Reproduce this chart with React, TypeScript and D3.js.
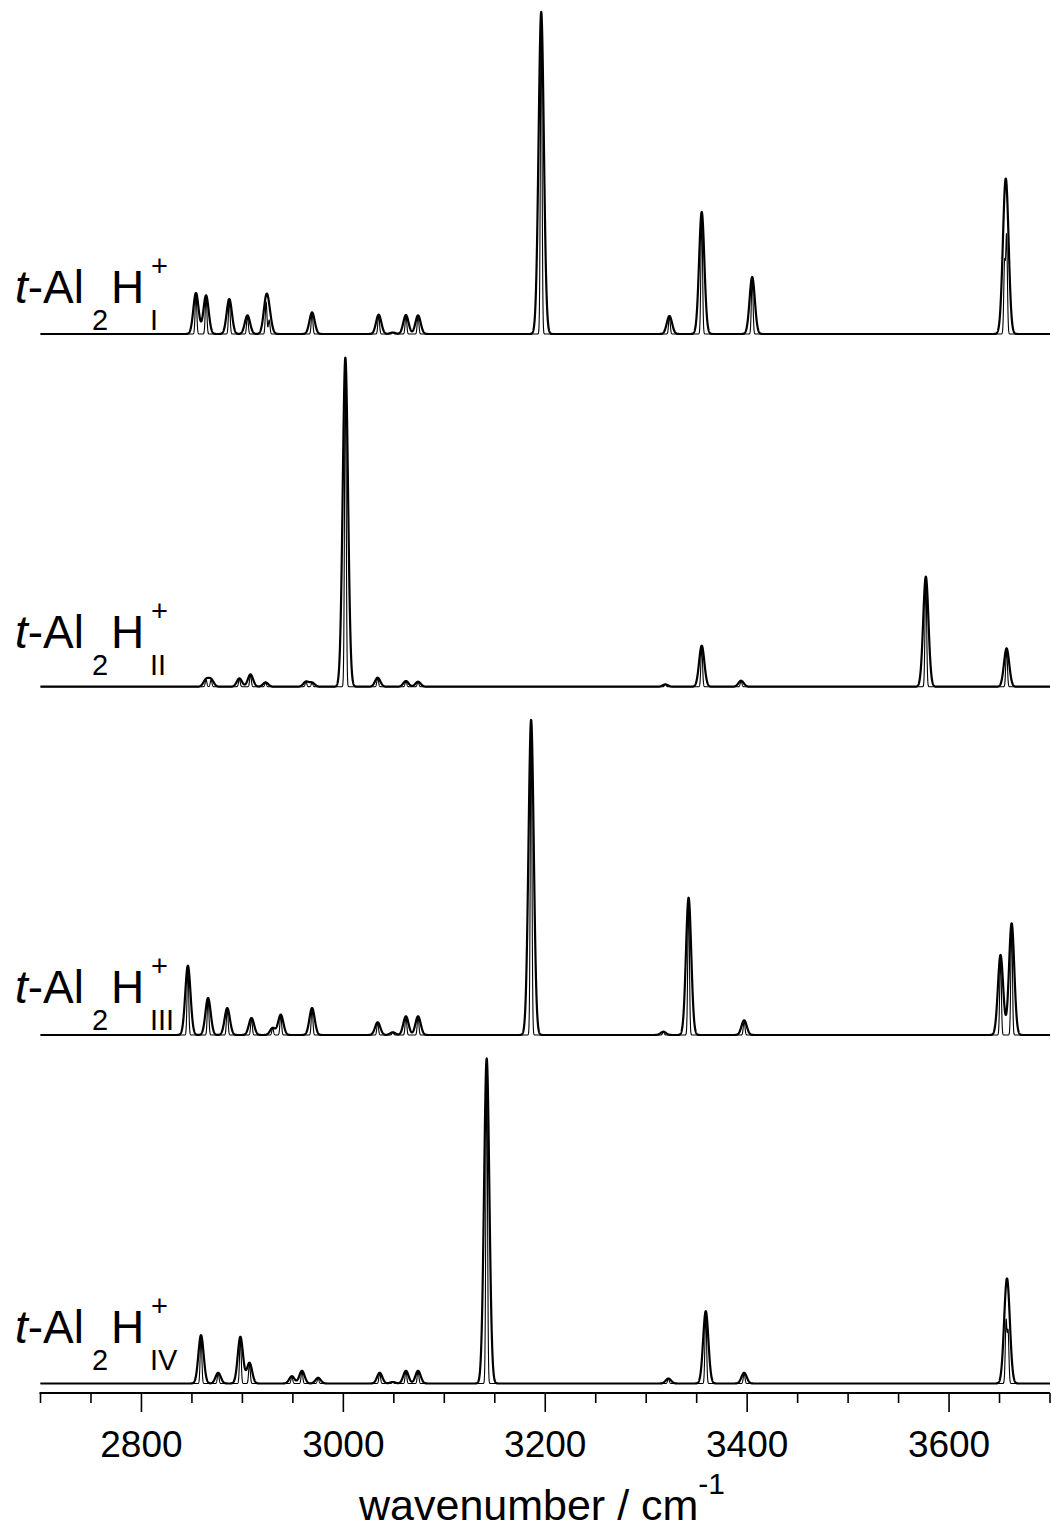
import React, { useEffect, useRef } from 'react';
import * as d3 from 'd3';

// stick positions (cm-1) and intensities for each isomer
const freqI = [2854, 2864, 2887, 2905, 2923.5, 2926.5, 2969, 3035, 3049, 3062, 3074, 3196, 3323, 3355, 3405, 3655, 3657];
const intI = [41, 38.6, 35, 18.6, 32, 14, 21.6, 19.3, 1.5, 19, 18.6, 322, 18, 122, 57, 70, 97];

const freqII = [2864, 2869, 2897, 2908, 2923, 2963, 2969, 3002, 3034, 3062, 3074, 3319, 3355, 3394, 3577, 3657];
const intII = [7, 7, 8.3, 12.3, 4.3, 5, 4, 329, 9, 5.7, 5, 2.3, 41, 6, 110, 38.3];

const freqIII = [2846, 2866, 2885, 2909, 2930, 2938, 2969, 3034, 3049, 3062, 3074, 3186, 3317, 3342, 3397, 3651, 3662];
const intIII = [69.3, 37, 27, 17, 7, 20.3, 27, 12.7, 2.7, 18.7, 18.7, 315, 3.3, 137.3, 14.7, 80, 111.7];

const freqIV = [2859, 2876, 2898, 2907, 2949, 2959, 2975, 3036, 3049, 3062, 3074, 3142, 3322, 3359, 3397, 3656.5, 3658.5];
const intIV = [48.3, 10.7, 46.7, 20.7, 7.3, 12.7, 5.7, 10.7, 1.5, 12.7, 12.7, 325, 5, 72.3, 10.7, 62, 51];

const isomers = ['I', 'II', 'III', 'IV'];
const tickMajor = [2800, 3000, 3200, 3400, 3600];

const W = 1051;
const H = 1536;
const FONT = "'Liberation Sans', Arial, sans-serif";

const App = () => {
  const ref = useRef(null);

  useEffect(() => {
    document.body.style.margin = '0';
    const svg = d3.select(ref.current);
    svg.selectAll('*').remove();

    const x = d3.scaleLinear().domain([2700, 3700]).range([40.5, 1050]);
    // two broadenings: a wide envelope and a narrow one drawn inside it
    const widths = [
      { s: 2.6, sw: 2.2 },
      { s: 0.8, sw: 1.1 },
    ];

    const panels = [
      { f: freqI, v: intI, base: 334, lab: 303 },
      { f: freqII, v: intII, base: 686.7, lab: 648 },
      { f: freqIII, v: intIII, base: 1035, lab: 1003 },
      { f: freqIV, v: intIV, base: 1383.5, lab: 1343 },
    ];

    const grid = d3.range(2700, 3700.01, 0.1);

    panels.forEach((p, k) => {
      const y = d3.scaleLinear().domain([0, 330]).range([p.base, p.base - 330]);
      const g = svg.append('g');
      const line = d3
        .line()
        .x((d) => x(d[0]))
        .y((d) => y(d[1]));

      widths.forEach((wd) => {
        const spec = grid.map((w) => {
          let s = 0;
          p.f.forEach((f, i) => {
            s += p.v[i] * Math.exp(-((w - f) * (w - f)) / (2 * wd.s * wd.s));
          });
          return [w, s];
        });
        g.append('path')
          .attr('d', line(spec))
          .attr('fill', 'none')
          .attr('stroke', '#000')
          .attr('stroke-width', wd.sw)
          .attr('stroke-linejoin', 'round');
      });

      // label t-Al2H+ with isomer subscript
      const lt = g.append('g').attr('font-family', FONT).attr('fill', '#000');
      const t1 = lt.append('text').attr('x', 15).attr('y', p.lab).attr('font-size', 46);
      t1.append('tspan').attr('font-style', 'italic').text('t');
      t1.append('tspan').text('-Al');
      lt.append('text').attr('x', 92).attr('y', p.lab + 27).attr('font-size', 29).text('2');
      lt.append('text').attr('x', 111).attr('y', p.lab).attr('font-size', 46).text('H');
      lt.append('text').attr('x', 150).attr('y', p.lab + 27).attr('font-size', 29).text(isomers[k]);
      lt.append('text').attr('x', 151).attr('y', p.lab - 27).attr('font-size', 29).text('+');
    });

    // bottom axis
    const ay = 1393;
    const ax = svg.append('g');
    ax.append('line')
      .attr('x1', x(2700) - 1)
      .attr('x2', x(3700))
      .attr('y1', ay)
      .attr('y2', ay)
      .attr('stroke', '#000')
      .attr('stroke-width', 2);
    const ticks = d3.range(2700, 3701, 50);
    ax.selectAll('.tk')
      .data(ticks)
      .enter()
      .append('line')
      .attr('x1', (d) => x(d))
      .attr('x2', (d) => x(d))
      .attr('y1', ay)
      .attr('y2', (d) => (tickMajor.includes(d) ? ay + 19 : ay + 10))
      .attr('stroke', '#000')
      .attr('stroke-width', 1.6);
    ax.selectAll('.lb')
      .data(tickMajor)
      .enter()
      .append('text')
      .attr('x', (d) => x(d))
      .attr('y', 1457)
      .attr('text-anchor', 'middle')
      .attr('font-family', FONT)
      .attr('font-size', 37)
      .text((d) => d);

    const xt = ax.append('text')
      .attr('x', 359)
      .attr('y', 1520)
      .attr('font-family', FONT)
      .attr('font-size', 43);
    xt.append('tspan').text('wavenumber / cm');
    xt.append('tspan').attr('font-size', 30).attr('dy', -26).text('-1');
  }, []);

  return (
    <svg
      ref={ref}
      width={W}
      height={H}
      style={{ position: 'absolute', left: 0, top: 0, background: '#fff' }}
    />
  );
};

export default App;
